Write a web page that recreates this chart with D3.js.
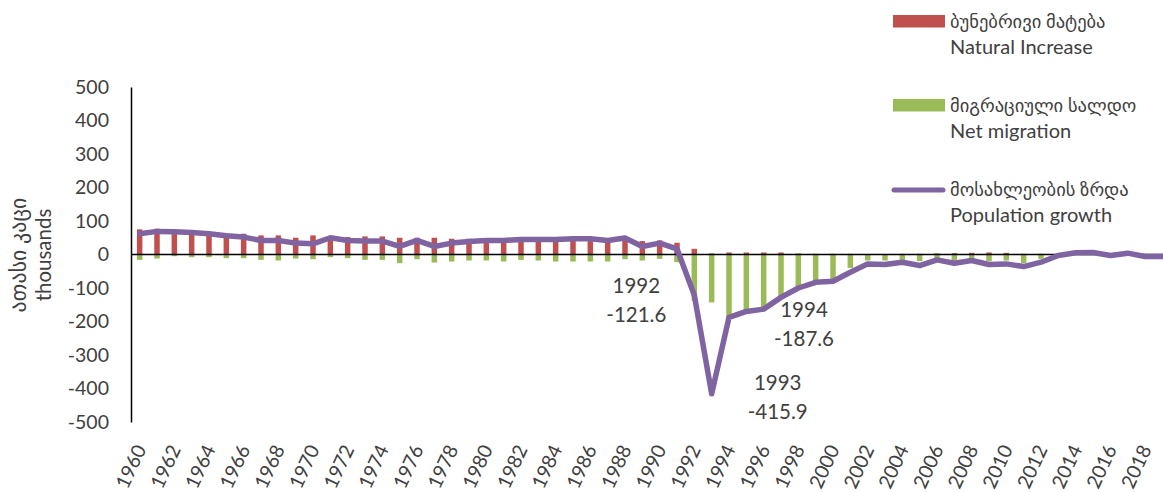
<!DOCTYPE html>
<html>
<head>
<meta charset="utf-8">
<script src="https://cdn.jsdelivr.net/npm/d3@7"></script>
<style>
  body { margin: 0; background: #fff; }
  svg { display: block; font-family: "Lato", "DejaVu Sans", sans-serif; }
  .lbl { fill: #404040; }
</style>
</head>
<body>
<div id="graph"></div>
<script>
var years = d3.range(1960, 2020);

// natural increase, thousands
var natural = [75, 77, 74, 70, 67, 62, 62, 57, 57, 50,
  57, 55, 52, 54, 54, 50, 50, 50, 47, 47,
  42, 47, 42, 42, 42, 45, 45, 42, 47, 40,
  42, 35, 17, 3, 6, 6, 6, 6, 3, 2,
  2, 2, 1, 1, 2, 2, 3, 4, 5, 6,
  5, 2, 2, 3, 4, 6, 4, 2, 1, 1];

// net migration, thousands
var migration = [-16, -12, -5, -8, -8, -11, -11, -16, -18, -12,
  -14, -8, -11, -16, -16, -26, -14, -24, -21, -18,
  -18, -21, -16, -18, -21, -21, -21, -21, -14, -18,
  -13, -23, -138, -143, -190, -170, -163, -128, -95, -82,
  -78, -40, -18, -18, -16, -20, -11, -18, -16, -20,
  -18, -26, -13, -5, 1, 0, -7, 2, -7, -7];

// population growth, thousands
var growth = [62, 69, 68, 66, 62, 56, 52, 42, 42, 34,
  32, 50, 42, 40, 40, 24, 42, 24, 34, 39,
  42, 42, 45, 45, 45, 47, 47, 42, 49, 24,
  34, 17, -121.6, -415.9, -187.6, -170, -163, -128, -100, -83,
  -80, -53, -28, -30, -23, -33, -16, -26, -18, -30,
  -28, -36, -23, -3, 5, 6, -3, 4, -6, -6];

var yTicks = [-500, -400, -300, -200, -100, 0, 100, 200, 300, 400, 500];

var callouts = [
  {year: 1992, text: ["1992", "-121.6"], dx: -58, y: 293},
  {year: 1994, text: ["1994", "-187.6"], dx: 75, y: 317},
  {year: 1993, text: ["1993", "-415.9"], dx: 66, y: 390}
];

var legendItems = [
  {type: "bar", color: "#C0504D", ka: "ბუნებრივი მატება", en: "Natural Increase"},
  {type: "bar", color: "#9BBB59", ka: "მიგრაციული სალდო", en: "Net migration"},
  {type: "line", color: "#8064A2", ka: "მოსახლეობის  ზრდა", en: "Population growth"}
];

var W = 1163, H = 493;

var x = d3.scaleBand().domain(years).range([131, 1171]).padding(0);
var y = d3.scaleLinear().domain([-500, 500]).range([422, 87]);

var svg = d3.select("#graph").append("svg")
    .attr("width", W)
    .attr("height", H);

var rows = years.map(function(yr, i) {
  return {year: yr, nat: natural[i], mig: migration[i], gr: growth[i]};
});

var bw = 5.5;

svg.append("g").selectAll("rect")
    .data(rows)
  .enter().append("rect")
    .attr("x", function(d) { return x(d.year) + x.bandwidth() / 2 - bw / 2; })
    .attr("y", function(d) { return y(Math.max(0, d.nat)); })
    .attr("width", bw)
    .attr("height", function(d) { return Math.abs(y(d.nat) - y(0)); })
    .attr("fill", "#C0504D");

svg.append("g").selectAll("rect")
    .data(rows)
  .enter().append("rect")
    .attr("x", function(d) { return x(d.year) + x.bandwidth() / 2 - bw / 2; })
    .attr("y", function(d) { return y(Math.max(0, d.mig)); })
    .attr("width", bw)
    .attr("height", function(d) { return Math.abs(y(d.mig) - y(0)); })
    .attr("fill", "#9BBB59");

// zero line
svg.append("line")
    .attr("x1", 131).attr("x2", W)
    .attr("y1", y(0)).attr("y2", y(0))
    .attr("stroke", "#000").attr("stroke-width", 1.5);

// y axis
var yAxis = svg.append("g")
    .attr("transform", "translate(131,0)")
    .call(d3.axisLeft(y).tickValues(yTicks).tickSize(0).tickPadding(22)
      .tickFormat(function(d) { return String(d); }));
yAxis.select(".domain").attr("stroke", "#000").attr("stroke-width", 1.5);
yAxis.selectAll("text")
    .attr("class", "lbl")
    .style("font-size", "19.5px")
    .style("font-family", "Lato, 'DejaVu Sans', sans-serif");

// x labels
var xAxis = svg.append("g")
    .attr("transform", "translate(0," + y(0) + ")")
    .call(d3.axisBottom(x).tickValues(years.filter(function(d) { return d % 2 === 0; })).tickSize(0));
xAxis.select(".domain").remove();
xAxis.selectAll("text")
    .attr("class", "lbl")
    .style("font-size", "19.5px")
    .style("font-family", "Lato, 'DejaVu Sans', sans-serif")
    .attr("text-anchor", "end")
    .attr("dy", null)
    .attr("y", 0)
    .attr("transform", function() { return "translate(7," + (443 - y(0) + 6) + ") rotate(-65)"; });

// growth line
svg.append("path")
    .datum(rows)
    .attr("fill", "none")
    .attr("stroke", "#8064A2")
    .attr("stroke-width", 5.5)
    .attr("stroke-linejoin", "round")
    .attr("stroke-linecap", "round")
    .attr("d", d3.line()
      .x(function(d) { return x(d.year) + x.bandwidth() / 2; })
      .y(function(d) { return y(d.gr); }));

// callouts
callouts.forEach(function(c) {
  var cx = x(c.year) + x.bandwidth() / 2 + c.dx;
  c.text.forEach(function(t, i) {
    svg.append("text")
        .attr("class", "lbl")
        .attr("x", cx)
        .attr("y", c.y + i * 29)
        .attr("text-anchor", "middle")
        .style("font-size", "20.5px")
        .text(t);
  });
});

// y title
var yt = svg.append("text")
    .attr("class", "lbl")
    .attr("transform", "translate(26,255) rotate(-90)")
    .attr("text-anchor", "middle");
yt.append("tspan").attr("x", 0).attr("y", 0).style("font-size", "22px").text("ათასი კაცი");
yt.append("tspan").attr("x", 0).attr("y", 25).style("font-size", "20.5px").text("thousands");

// legend
var lg = svg.append("g");
legendItems.forEach(function(d, i) {
  var top = 15 + i * 84;
  if (d.type === "bar") {
    lg.append("rect")
        .attr("x", 893).attr("y", top)
        .attr("width", 52).attr("height", 12.5)
        .attr("fill", d.color);
  } else {
    lg.append("line")
        .attr("x1", 894).attr("x2", 943)
        .attr("y1", top + 7).attr("y2", top + 7)
        .attr("stroke", d.color)
        .attr("stroke-width", 5)
        .attr("stroke-linecap", "round");
  }
  lg.append("text")
      .attr("class", "lbl")
      .attr("x", 950).attr("y", top + 13)
      .style("font-size", "18.5px")
      .text(d.ka);
  lg.append("text")
      .attr("class", "lbl")
      .attr("x", 950).attr("y", top + 39)
      .style("font-size", "20px")
      .text(d.en);
});
</script>
</body>
</html>
